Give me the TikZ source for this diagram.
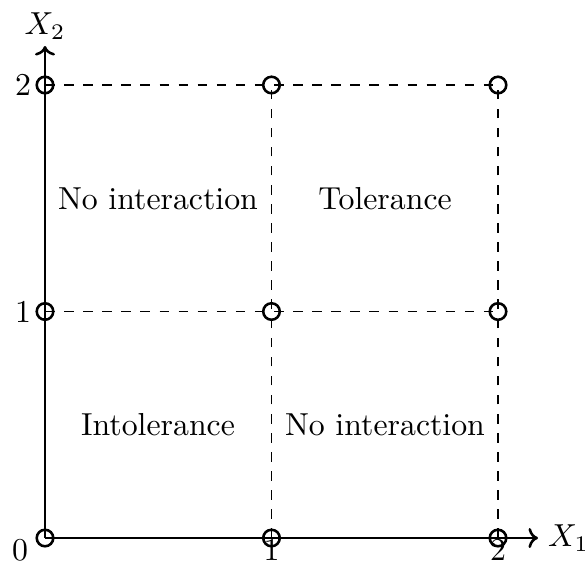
\documentclass[tikz,border=0pt]{standalone}
\usetikzlibrary{arrows.meta}
\begin{document}
\begin{tikzpicture}[x=0.3144pt,y=-0.3144pt,
  pt/.style={circle,draw,thick,inner sep=0pt,minimum size=5.2pt},
  grid/.style={dashed,thin},
  axis/.style={thick,-{To[length=3pt]}}]
\useasboundingbox (0,0) rectangle (585,571);
\coordinate (c00) at (45,538);
\coordinate (c10) at (271.5,538);
\coordinate (c20) at (498,538);
\coordinate (c01) at (45,311.5);
\coordinate (c11) at (271.5,311.5);
\coordinate (c21) at (498,311.5);
\coordinate (c02) at (45,85);
\coordinate (c12) at (271.5,85);
\coordinate (c22) at (498,85);
\coordinate (xend) at (538,538);
\coordinate (yend) at (45,46);
% dashed grid
\draw[grid] (c02) -- (c22);
\draw[grid] (c01) -- (c21);
\draw[grid] (c10) -- (c12);
\draw[grid] (c20) -- (c22);
% axes
\draw[axis] (c00) -- (xend);
\draw[axis] (c00) -- (yend);
% points
\foreach \p in {c00,c10,c20,c01,c11,c21,c02,c12,c22}
  \node[pt] (n\p) at (\p) {};
% labels
\node[anchor=west,inner sep=3pt] (lx1) at (xend) {$X_1$};
\node[anchor=south,inner sep=2pt] (lx2) at (yend) {$X_2$};
\node (l0) at (20,550) {0};
\node (lx1a) at (271.5,550) {1};
\node (lx2a) at (498,550) {2};
\node (ly1) at (23,311.5) {1};
\node (ly2) at (23,85) {2};
\node (r1) at (158,199) {No interaction};
\node (r2) at (385,199) {Tolerance};
\node (r3) at (158,425) {Intolerance};
\node (r4) at (385,425) {No interaction};
\end{tikzpicture}
\end{document}
